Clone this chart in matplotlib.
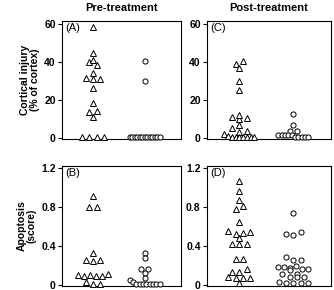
import numpy as np
import matplotlib
matplotlib.use('Agg')
import matplotlib.pyplot as plt

plt.rcParams['font.family'] = ['Liberation Sans', 'DejaVu Sans']

# ---------------- data ----------------
col_titles = ['Pre-treatment', 'Post-treatment']
row_labels = ['Cortical injury\n(% of cortex)', 'Apoptosis\n(score)']
panel_labels = [['(A)', '(C)'], ['(B)', '(D)']]
injury_ticks = [0, 20, 40, 60]
injury_tick_labels = ['0', '20', '40', '60']
apoptosis_ticks = [0, 0.4, 0.8, 1.2]
apoptosis_tick_labels = ['0', '0.4', '0.8', '1.2']

injury_pre_tri = [58.6, 45, 40, 38.7, 41, 34.5, 31.8, 31, 31, 26.6, 18.6,
                  13.7, 14.3, 11, 0.5, 0.5, 0.5, 0.5]
injury_pre_circ = [40.6, 30, 0.5, 0.5, 0.5, 0.5, 0.5, 0.5, 0.5, 0.5, 0.5,
                   0.5, 0.5, 0.5, 0.5]
injury_post_tri = [39.3, 37, 40.5, 30, 25.4, 11.3, 10, 10.6, 12.3, 7, 5.4,
                   3.6, 4, 2.2, 1.5, 1, 0.8, 0.6, 0.5, 0.5, 0.5, 0.5]
injury_post_circ = [13, 7.1, 4, 4, 2, 2, 2, 2, 1.8, 0.5, 0.5, 0.5, 0.5, 0.5]

apop_pre_tri = [0.915, 0.805, 0.805, 0.326, 0.26, 0.25, 0.26, 0.105, 0.09,
                0.105, 0.09, 0.09, 0.11, 0.035, 0.015, 0.015]
apop_pre_circ = [0.325, 0.275, 0.16, 0.16, 0.12, 0.075, 0.05, 0.035, 0.015,
                 0.015, 0.015, 0.015, 0.015, 0.015, 0.015, 0.015]
apop_post_tri = [1.07, 0.97, 0.87, 0.78, 0.81, 0.65, 0.56, 0.53, 0.54, 0.55,
                 0.48, 0.42, 0.42, 0.42, 0.27, 0.27, 0.135, 0.135, 0.17,
                 0.085, 0.07, 0.025, 0.07, 0.07]
apop_post_circ = [0.744, 0.524, 0.514, 0.541, 0.287, 0.254, 0.254, 0.186,
                  0.186, 0.176, 0.193, 0.152, 0.169, 0.169, 0.118, 0.112,
                  0.085, 0.078, 0.078, 0.034, 0.024, 0.024, 0.024, 0.024]

panels = [[(injury_pre_tri, injury_pre_circ), (injury_post_tri, injury_post_circ)],
          [(apop_pre_tri, apop_pre_circ), (apop_post_tri, apop_post_circ)]]

# ---------------- layout ----------------
W, H = 334, 290
fig = plt.figure(figsize=(W / 100, H / 100), dpi=100)

col_x = [(62, 181), (207, 331)]
row_y = [(21, 139), (166, 286)]
ylims = [(-0.3, 61.6), (-0.01, 1.225)]
xlim = (0.4, 2.7)
group_pos = [1, 2]


def swarm_offsets(values, ypx_per_unit, xunits_per_px,
                  step_px=7.3, tol_px=3.6, max_width_px=30):
    vals = np.asarray(values, dtype=float)
    order = np.argsort(vals, kind='stable')
    rows, cur, start = [], [], None
    for i in order:
        ypx = vals[i] * ypx_per_unit
        if cur and ypx - start > tol_px:
            rows.append(cur)
            cur = []
        if not cur:
            start = ypx
        cur.append(i)
    if cur:
        rows.append(cur)
    off = np.zeros(len(vals))
    for row in rows:
        row = sorted(row)
        n = len(row)
        step = min(step_px, max_width_px / (n - 1)) if n > 1 else 0
        for k, i in enumerate(row):
            off[i] = (k - (n - 1) / 2) * step
    return off * xunits_per_px


for r in range(2):
    for c in range(2):
        x0, x1 = col_x[c]
        y0, y1 = row_y[r]
        ax = fig.add_axes([x0 / W, (H - y1) / H, (x1 - x0) / W, (y1 - y0) / H])
        ax.set_xlim(*xlim)
        ax.set_ylim(*ylims[r])
        ypx_per_unit = (y1 - y0) / (ylims[r][1] - ylims[r][0])
        xunits_per_px = (xlim[1] - xlim[0]) / (x1 - x0)
        tri, circ = panels[r][c]
        for vals, mk, ms, gp in [(tri, '^', 3.9, group_pos[0]),
                                 (circ, 'o', 3.7, group_pos[1])]:
            off = swarm_offsets(vals, ypx_per_unit, xunits_per_px)
            ax.plot(gp + off, vals, linestyle='none', marker=mk, ms=ms,
                    mfc='white', mec='black', mew=0.7, clip_on=False, zorder=3)
        ax.set_xticks([])
        if r == 0:
            ax.set_yticks(injury_ticks)
            ax.set_yticklabels(injury_tick_labels)
        else:
            ax.set_yticks(apoptosis_ticks)
            ax.set_yticklabels(apoptosis_tick_labels)
        ax.tick_params(axis='y', direction='out', length=3, width=0.8, pad=1.5,
                       labelsize=7.5)
        for lab in ax.get_yticklabels():
            lab.set_fontweight('bold')
        for sp in ax.spines.values():
            sp.set_linewidth(0.8)
        ax.text(0.03, 0.98, panel_labels[r][c], transform=ax.transAxes,
                ha='left', va='top', fontsize=8)
        if r == 0:
            ax.set_title(col_titles[c], fontsize=8, fontweight='bold', pad=7)
        if c == 0:
            ax.set_ylabel(row_labels[r], fontsize=7.5, fontweight='bold',
                          labelpad=3, linespacing=1.0)

fig.savefig('out.png', dpi=100)
